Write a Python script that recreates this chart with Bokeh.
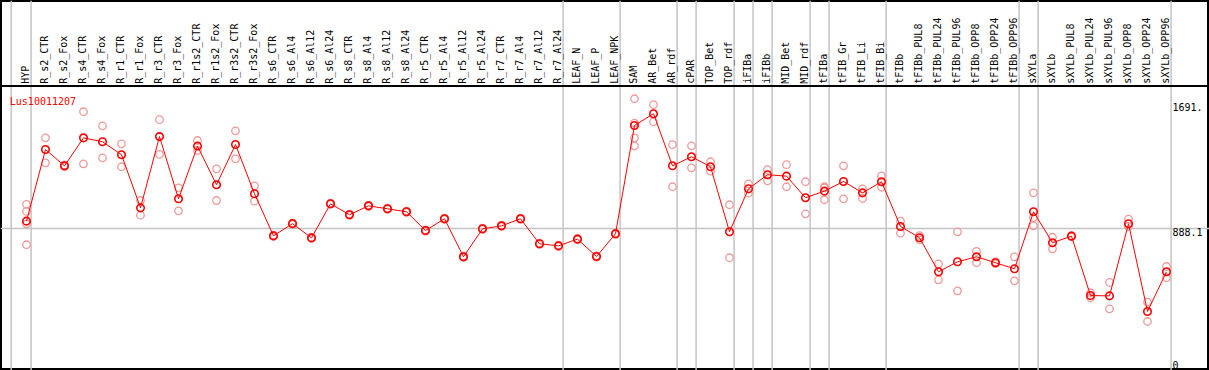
import math
from bokeh.plotting import figure
from bokeh.models import Range1d
from bokeh.core.properties import value
from bokeh.embed import file_html
from bokeh.resources import INLINE

title_text = "Lus10011207"

categories = [
    "HYP", "R_s2_CTR", "R_s2_Fox", "R_s4_CTR", "R_s4_Fox", "R_r1_CTR", "R_r1_Fox",
    "R_r3_CTR", "R_r3_Fox", "R_r1s2_CTR", "R_r1s2_Fox", "R_r3s2_CTR", "R_r3s2_Fox",
    "R_s6_CTR", "R_s6_Al4", "R_s6_Al12", "R_s6_Al24", "R_s8_CTR", "R_s8_Al4",
    "R_s8_Al12", "R_s8_Al24", "R_r5_CTR", "R_r5_Al4", "R_r5_Al12", "R_r5_Al24",
    "R_r7_CTR", "R_r7_Al4", "R_r7_Al12", "R_r7_Al24", "LEAF_N", "LEAF_P", "LEAF_NPK",
    "SAM", "AR_Bet", "AR_rdf", "cPAR", "TOP_Bet", "TOP_rdf", "iFIBa", "iFIBb",
    "MID_Bet", "MID_rdf", "tFIBa", "tFIB_Gr", "tFIB_Li", "tFIB_Bi", "tFIBb",
    "tFIBb_PUL8", "tFIBb_PUL24", "tFIBb_PUL96", "tFIBb_OPP8", "tFIBb_OPP24",
    "tFIBb_OPP96", "sXYLa", "sXYLb", "sXYLb_PUL8", "sXYLb_PUL24", "sXYLb_PUL96",
    "sXYLb_OPP8", "sXYLb_OPP24", "sXYLb_OPP96",
]

means = [
    935, 1393, 1289, 1468, 1443, 1360, 1020, 1476, 1078, 1415, 1168, 1425, 1110,
    841, 919, 828, 1046, 976, 1033, 1014, 995, 875, 950, 707, 886, 905, 950, 790,
    777, 820, 709, 854, 1547, 1622, 1289, 1347, 1283, 867, 1142, 1232, 1223, 1085,
    1127, 1189, 1116, 1187, 901, 829, 611, 675, 707, 669, 630, 995, 797, 839, 459,
    457, 918, 357, 611,
]

replicates = [
    [1042, 997, 918, 784], [1468, 1308], [1295, 1283], [1635, 1302], [1545, 1340],
    [1430, 1283], [1067, 973], [1584, 1362], [1148, 1001], [1451, 1387],
    [1270, 1067], [1513, 1334], [1161, 1063], [845, 837], [923, 915], [832, 824],
    [1050, 1042], [980, 972], [1037, 1029], [1018, 1010], [999, 991], [879, 871],
    [954, 946], [711, 703], [890, 882], [909, 901], [954, 946], [794, 786],
    [781, 773], [824, 816], [713, 705], [858, 850], [1718, 1562, 1468, 1417],
    [1680, 1571], [1424, 1155], [1417, 1276], [1315, 1255], [1040, 701],
    [1174, 1114], [1264, 1193], [1296, 1155], [1187, 982], [1155, 1148, 1072],
    [1289, 1078], [1142, 1080], [1225, 1152], [935, 858], [843, 816], [662, 560],
    [867, 489], [741, 669], [675, 663], [707, 553], [1116, 958, 905], [832, 758],
    [843, 835], [477, 445], [543, 374], [948, 901], [417, 293], [645, 573],
]

group_sizes = [1, 28, 3, 3, 1, 2, 1, 1, 2, 1, 3, 7, 1, 7]

tick_values = [0, 888.1, 1691]
tick_labels = ["0", "888.1", "1691."]
ref_line_value = 888.1

# ---- layout (pixels) ----
W, H = 1209, 370
PX0, DX = 26.0, 19.0
K = 0.15631          # px per unit
ZERO = 366.8         # pixel row of value 0
HEADER = 85.5        # pixel row of header separator

x_lo = -PX0 / DX
x_hi = x_lo + W / DX


def xv(px):
    return x_lo + px / DX


def yv(py):
    return (ZERO - py) / K


y_lo, y_hi = yv(H), yv(0)

p = figure(width=W, height=H, x_range=Range1d(x_lo, x_hi), y_range=Range1d(y_lo, y_hi),
           toolbar_location=None, output_backend="svg", min_border=0)
p.min_border_left = p.min_border_right = p.min_border_top = p.min_border_bottom = 0
p.xaxis.visible = False
p.yaxis.visible = False
p.grid.visible = False
p.outline_line_color = "black"
p.outline_line_width = 3
p.background_fill_color = "white"
p.border_fill_color = "white"

FONT = value("DejaVu Sans Mono")
GRAY = "#c4c4c4"

# group separators
bounds = [-1]
acc = -1
for g in group_sizes:
    acc += g
    bounds.append(acc)
bx = [b + 4.6 / DX for b in bounds]
bx[0] = xv(10.7)
p.segment(x0=bx, y0=[y_lo] * len(bx), x1=bx, y1=[y_hi] * len(bx),
          line_color=GRAY, line_width=1.5)

# reference line
p.segment(x0=[x_lo], y0=[ref_line_value], x1=[x_hi], y1=[ref_line_value],
          line_color=GRAY, line_width=1.5)

# header separator
p.segment(x0=[x_lo], y0=[yv(HEADER)], x1=[x_hi], y1=[yv(HEADER)],
          line_color="black", line_width=2)

idx = list(range(len(categories)))

# header labels
p.text(x=[i - 1.0 / DX for i in idx], y=[yv(83.3)] * len(idx), text=categories,
       angle=math.pi / 2, text_font=FONT, text_font_size="10px",
       text_align="left", text_baseline="middle", text_color="black")

# title
p.text(x=[xv(9.3)], y=[yv(100.7)], text=[title_text], text_font=FONT,
       text_font_size="10px", text_align="left", text_baseline="alphabetic",
       text_color="red")

# right tick labels
p.text(x=[xv(1172)] * 2, y=tick_values[1:], text=tick_labels[1:], text_font=FONT,
       text_font_size="10px", text_align="left", text_baseline="top", text_color="black")
p.text(x=[xv(1172)], y=[yv(364.5)], text=tick_labels[:1], text_font=FONT,
       text_font_size="10px", text_align="left", text_baseline="alphabetic",
       text_color="black")

# replicates
rx = [i for i, reps in enumerate(replicates) for _ in reps]
ry = [v for reps in replicates for v in reps]
p.scatter(rx, ry, marker="circle", size=7.5, fill_color=None,
          line_color="#f09a9a", line_width=1.3)

# mean line and markers
p.line(idx, means, line_color="red", line_width=1)
p.scatter(idx, means, marker="circle", size=7.5, fill_color=None,
          line_color="red", line_width=1.6)

open("out.html", "w").write(file_html(p, INLINE))
